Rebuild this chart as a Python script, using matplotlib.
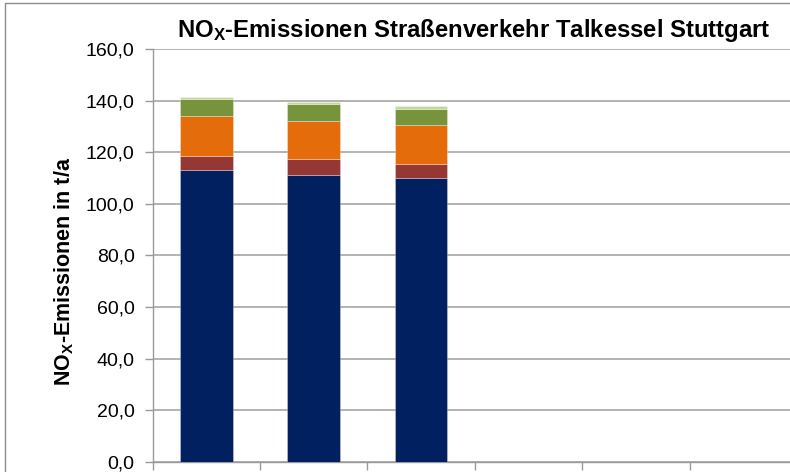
import matplotlib
matplotlib.use("Agg")
import matplotlib.pyplot as plt
from matplotlib.patches import Rectangle
from matplotlib.ticker import FuncFormatter, MultipleLocator, FixedLocator
import numpy as np

plt.rcParams['font.family'] = ['Liberation Sans', 'DejaVu Sans']
plt.rcParams['mathtext.fontset'] = 'custom'
plt.rcParams['mathtext.rm'] = 'Liberation Sans:bold'
plt.rcParams['mathtext.bf'] = 'Liberation Sans:bold'
plt.rcParams['mathtext.it'] = 'Liberation Sans:bold'

# Data (t/a), 6 category slots, only first 3 filled
categories = ["1", "2", "3", "4", "5", "6"]
series_names = ["Serie 1", "Serie 2", "Serie 3", "Serie 4", "Serie 5"]
s1 = [113.2, 111.1, 110.0, 0, 0, 0]
s2 = [5.5, 6.1, 5.6, 0, 0, 0]
s3 = [15.4, 14.9, 14.9, 0, 0, 0]
s4 = [6.5, 6.4, 6.4, 0, 0, 0]
s5 = [0.8, 0.8, 1.2, 0, 0, 0]
colors = ["#002060", "#953735", "#E46C0A", "#77933C", "#C3D69B"]

W, H = 790, 472
fig = plt.figure(figsize=(W/100, H/100), dpi=100)
ax = fig.add_axes([152.6/W, 1-462/H, (797-152.6)/W, (462-49)/H])

x = np.arange(len(categories))
bottom = np.zeros(len(categories))
for vals, c, n in zip([s1, s2, s3, s4, s5], colors, series_names):
    v = np.array(vals, dtype=float)
    ax.bar(x, v, width=0.49, bottom=bottom, color=c, edgecolor=(1, 1, 1, 0.35),
           linewidth=0.6, label=n, zorder=3)
    bottom += v

ax.set_xlim(-0.5, len(categories)-0.5)
ax.set_ylim(0, 160)
ax.yaxis.set_major_locator(MultipleLocator(20))
ax.yaxis.set_major_formatter(FuncFormatter(lambda v, p: f"{v:.1f}".replace(".", ",")))
ax.xaxis.set_major_locator(FixedLocator(np.arange(-0.5, len(categories), 1.0)))
ax.set_xticklabels([])

ax.grid(axis='y', color='#a6a6a6', linewidth=1.2, zorder=0)
for s in ['top', 'right']:
    ax.spines[s].set_visible(False)
for s in ['left', 'bottom']:
    ax.spines[s].set_color('#999999')
    ax.spines[s].set_linewidth(1.0)
ax.tick_params(axis='both', colors='#999999', length=6, width=1.0, labelcolor='black',
               labelsize=14)
ax.tick_params(axis='y', pad=7)

fig.text(474/W, 1-30/H, r'NO$_\mathbf{X}$-Emissionen Straßenverkehr Talkessel Stuttgart',
         ha='center', va='center', fontsize=17.2, fontweight='bold')

fig.text(64/W, 1-271/H, r'NO$_\mathbf{X}$-Emissionen in t/a', rotation=90,
         ha='center', va='center', fontsize=15.5, fontweight='bold')

fig.patches.append(Rectangle((5/W, -0.1), 1.2, 1-3/H+0.1, transform=fig.transFigure,
                             fill=False, edgecolor='#8c8c8c', linewidth=1.0))

fig.savefig("out.png", dpi=100)
